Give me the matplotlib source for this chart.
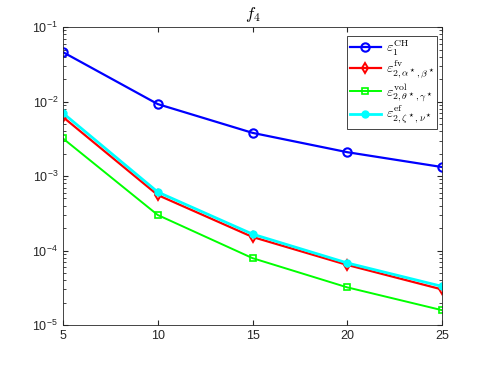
import numpy as np
import matplotlib
matplotlib.use("Agg")
import matplotlib.pyplot as plt

plt.rcParams['mathtext.fontset'] = 'cm'
plt.rcParams['font.family'] = ['Liberation Sans', 'DejaVu Sans']

n = [5, 10, 15, 20, 25]
err_ch = [0.0461, 0.00925, 0.0038, 0.00209, 0.00132]
err_fv = [0.0062, 0.000556, 0.000152, 6.4e-5, 3.0e-5]
err_vol = [0.0032, 0.0003, 7.9e-5, 3.2e-5, 1.58e-5]
err_ef = [0.0070, 0.00061, 0.000166, 6.8e-5, 3.3e-5]

labels = [r'$\varepsilon_1^{\mathrm{CH}}$',
          r'$\varepsilon^{\mathrm{fv}}_{2,\alpha^\star,\beta^\star}$',
          r'$\varepsilon^{\mathrm{vol}}_{2,\theta^\star,\gamma^\star}$',
          r'$\varepsilon^{\mathrm{ef}}_{2,\zeta^\star,\nu^\star}$']

fig = plt.figure(figsize=(4.88, 3.66), dpi=100)
ax = fig.add_axes([0.129, 0.112, 0.777, 0.814])

ax.semilogy(n, err_ch, '-o', color='#0000ff', lw=1.6, ms=6, mfc='none', mew=1.5, label=labels[0])
ax.semilogy(n, err_fv, '-d', color='#ff0000', lw=1.6, ms=5.5, mfc='none', mew=1.4, label=labels[1])
ax.semilogy(n, err_vol, '-s', color='#00ff00', lw=1.4, ms=5, mfc='none', mew=1.2, label=labels[2])
ax.semilogy(n, err_ef, '-o', color='#00ffff', lw=2.0, ms=5, label=labels[3])

ax.set_xlim(5, 25)
ax.set_ylim(1e-5, 1e-1)
ax.set_xticks([5, 10, 15, 20, 25])
ax.tick_params(which='both', direction='in', top=True, right=True, labelsize=9, colors='#262626')
for s in ax.spines.values():
    s.set_color('#262626')
    s.set_linewidth(0.6)
ax.set_title(r'$f_4$', fontsize=12)

leg = ax.legend(loc='upper right', bbox_to_anchor=(0.995, 0.98), fontsize=10, fancybox=False,
                framealpha=1, edgecolor='#262626', handlelength=2.3, borderpad=0.2,
                labelspacing=0.05, handletextpad=0.3, borderaxespad=0.2)
leg.get_frame().set_linewidth(0.6)

fig.savefig('out.png')
